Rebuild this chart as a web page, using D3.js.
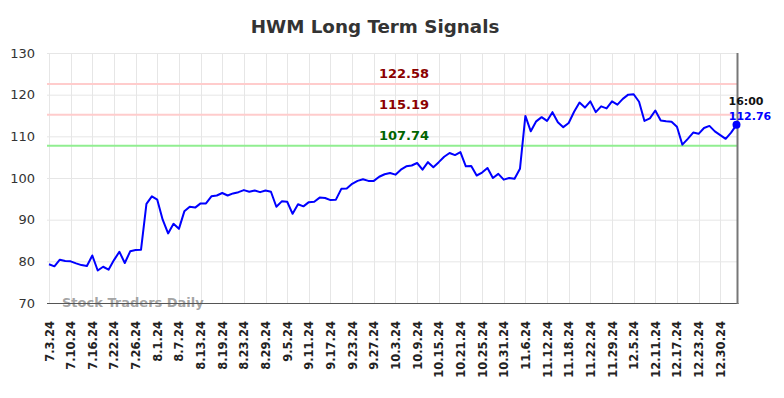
<!DOCTYPE html>
<html>
<head>
<meta charset="utf-8">
<script src="https://cdn.jsdelivr.net/npm/d3@7"></script>
<style>
  html, body { margin: 0; padding: 0; background: #fff; }
  svg { display: block; }
</style>
</head>
<body>
<svg id="chart" width="784" height="398"></svg>
<script>
const title = "HWM Long Term Signals";
const dates = [
  "7.3.24","7.5.24","7.8.24","7.9.24","7.10.24","7.11.24","7.12.24","7.15.24","7.16.24","7.17.24",
  "7.18.24","7.19.24","7.22.24","7.23.24","7.24.24","7.25.24","7.26.24","7.29.24","7.30.24","7.31.24",
  "8.1.24","8.2.24","8.5.24","8.6.24","8.7.24","8.8.24","8.9.24","8.12.24","8.13.24","8.14.24",
  "8.15.24","8.16.24","8.19.24","8.20.24","8.21.24","8.22.24","8.23.24","8.26.24","8.27.24","8.28.24",
  "8.29.24","8.30.24","9.3.24","9.4.24","9.5.24","9.6.24","9.9.24","9.10.24","9.11.24","9.12.24",
  "9.13.24","9.16.24","9.17.24","9.18.24","9.19.24","9.20.24","9.23.24","9.24.24","9.25.24","9.26.24",
  "9.27.24","9.30.24","10.1.24","10.2.24","10.3.24","10.4.24","10.7.24","10.8.24","10.9.24","10.10.24",
  "10.11.24","10.14.24","10.15.24","10.16.24","10.17.24","10.18.24","10.21.24","10.22.24","10.23.24","10.24.24",
  "10.25.24","10.28.24","10.29.24","10.30.24","10.31.24","11.1.24","11.4.24","11.5.24","11.6.24","11.7.24",
  "11.8.24","11.11.24","11.12.24","11.13.24","11.14.24","11.15.24","11.18.24","11.19.24","11.20.24","11.21.24",
  "11.22.24","11.25.24","11.26.24","11.27.24","11.29.24","12.2.24","12.3.24","12.4.24","12.5.24","12.6.24",
  "12.9.24","12.10.24","12.11.24","12.12.24","12.13.24","12.16.24","12.17.24","12.18.24","12.19.24","12.20.24",
  "12.23.24","12.24.24","12.26.24","12.27.24","12.30.24","12.31.24","1.2.25","1.3.25"
];
const prices = [
  79.3,78.8,80.4,80.1,80.0,79.5,79.1,78.9,81.4,77.8,
  78.7,78.0,80.3,82.3,79.6,82.4,82.7,82.8,93.8,95.6,
  94.8,90.0,86.7,89.0,87.8,92.0,93.1,92.9,93.9,93.9,
  95.6,95.8,96.4,95.8,96.3,96.6,97.1,96.7,97.0,96.6,
  97.0,96.7,93.1,94.4,94.3,91.4,93.7,93.2,94.2,94.3,
  95.3,95.2,94.7,94.8,97.4,97.5,98.6,99.3,99.7,99.3,
  99.3,100.3,100.9,101.2,100.8,102.0,102.8,103.0,103.6,102.0,
  103.8,102.6,103.8,105.1,106.0,105.5,106.2,102.8,102.9,100.6,
  101.3,102.4,100.0,101.0,99.6,100.0,99.8,102.2,114.9,111.2,
  113.6,114.6,113.7,115.8,113.4,112.2,113.2,115.9,118.1,116.9,
  118.4,115.8,117.2,116.7,118.4,117.6,119.0,120.0,120.1,118.3,
  113.7,114.3,116.2,113.8,113.6,113.5,112.3,108.0,109.4,110.9,
  110.6,112.0,112.5,111.2,110.3,109.4,110.9,112.76
];
const yTicks = [70, 80, 90, 100, 110, 120, 130];
const signalValues = [122.58, 115.19, 107.74];
const signalLabels = ["122.58", "115.19", "107.74"];
const lastTime = "16:00";
const lastLabel = "112.76";
const tickEvery = 4;

(function () {
const svg = d3.select("#chart");
const pLeft = 47, pRight = 737.5, pTop = 53, pBottom = 303;

const x = d3.scaleLinear().domain([0, dates.length - 1]).range([49, 736.5]);
const y = d3.scaleLinear().domain([70, 130]).range([pBottom, pTop]);

const tickIdx = d3.range(0, dates.length, tickEvery);

// grid
const grid = svg.append("g");
grid.selectAll("line.h").data(yTicks).join("line")
  .attr("x1", pLeft).attr("x2", pRight)
  .attr("y1", d => y(d) + 0.5).attr("y2", d => y(d) + 0.5)
  .attr("stroke", "#e6e6e6").attr("stroke-width", 1);
grid.selectAll("line.v").data(tickIdx).join("line")
  .attr("x1", d => Math.round(x(d)) + 0.5).attr("x2", d => Math.round(x(d)) + 0.5)
  .attr("y1", pTop).attr("y2", pBottom)
  .attr("stroke", "#e6e6e6").attr("stroke-width", 1);

// y axis labels
const yAxis = d3.axisLeft(y).tickValues(yTicks).tickSize(0).tickPadding(12);
const yg = svg.append("g").attr("transform", `translate(${pLeft},0)`).call(yAxis);
yg.select(".domain").remove();
yg.selectAll("text").attr("font-family", "DejaVu Sans, sans-serif").attr("font-size", 13).attr("fill", "#333");

// x axis labels
const xAxis = d3.axisBottom(x).tickValues(tickIdx).tickFormat(i => dates[i]).tickSize(0);
const xg = svg.append("g").attr("transform", `translate(0,${pBottom})`).call(xAxis);
xg.select(".domain").remove();
xg.selectAll("text")
  .attr("font-family", "DejaVu Sans, sans-serif").attr("font-size", 11.5).attr("font-weight", "bold").attr("fill", "#222")
  .attr("transform", "rotate(-90)")
  .attr("text-anchor", "end")
  .attr("x", -18).attr("y", 0).attr("dy", "0.35em");

// signal lines
const sigColors = ["#ffcccc", "#ffcccc", "#90ee90"];
const sigText = ["#8b0000", "#8b0000", "#006400"];
signalValues.forEach((v, i) => {
  svg.append("line")
    .attr("x1", pLeft).attr("x2", pRight)
    .attr("y1", y(v)).attr("y2", y(v))
    .attr("stroke", sigColors[i]).attr("stroke-width", 2);
  svg.append("text")
    .attr("x", 404).attr("y", y(v) - 6)
    .attr("text-anchor", "middle")
    .attr("font-family", "DejaVu Sans, sans-serif").attr("font-size", 13).attr("font-weight", "bold")
    .attr("fill", sigText[i])
    .text(signalLabels[i]);
});

// watermark
svg.append("text")
  .attr("x", 62).attr("y", 307)
  .attr("font-family", "DejaVu Sans, sans-serif").attr("font-size", 13).attr("font-weight", "bold")
  .attr("fill", "#999").attr("fill-opacity", 0.9)
  .text("Stock Traders Daily");

// axis frame lines
svg.append("line").attr("x1", pLeft).attr("x2", pRight + 1).attr("y1", pBottom + 0.5).attr("y2", pBottom + 0.5)
  .attr("stroke", "#555").attr("stroke-width", 1);
svg.append("line").attr("x1", pRight).attr("x2", pRight).attr("y1", pTop).attr("y2", pBottom + 1)
  .attr("stroke", "#777").attr("stroke-width", 2);

// price line
const line = d3.line().x((d, i) => x(i)).y(d => y(d));
svg.append("path").datum(prices)
  .attr("d", line).attr("fill", "none")
  .attr("stroke", "#0000ff").attr("stroke-width", 2).attr("stroke-linejoin", "round");

// last point
const li = prices.length - 1;
svg.append("circle").attr("cx", x(li)).attr("cy", y(prices[li])).attr("r", 4).attr("fill", "#0000ff");
svg.append("text").attr("x", 746).attr("y", 105).attr("text-anchor", "middle")
  .attr("font-family", "DejaVu Sans, sans-serif").attr("font-size", 11).attr("font-weight", "bold").attr("fill", "#111")
  .text(lastTime);
svg.append("text").attr("x", 750).attr("y", 120).attr("text-anchor", "middle")
  .attr("font-family", "DejaVu Sans, sans-serif").attr("font-size", 11).attr("font-weight", "bold").attr("fill", "#0000ff")
  .text(lastLabel);

// title
svg.append("text").attr("x", 375).attr("y", 33).attr("text-anchor", "middle")
  .attr("font-family", "DejaVu Sans, sans-serif").attr("font-size", 18.3).attr("font-weight", "bold").attr("fill", "#333")
  .text(title);
})();
</script>
</body>
</html>
